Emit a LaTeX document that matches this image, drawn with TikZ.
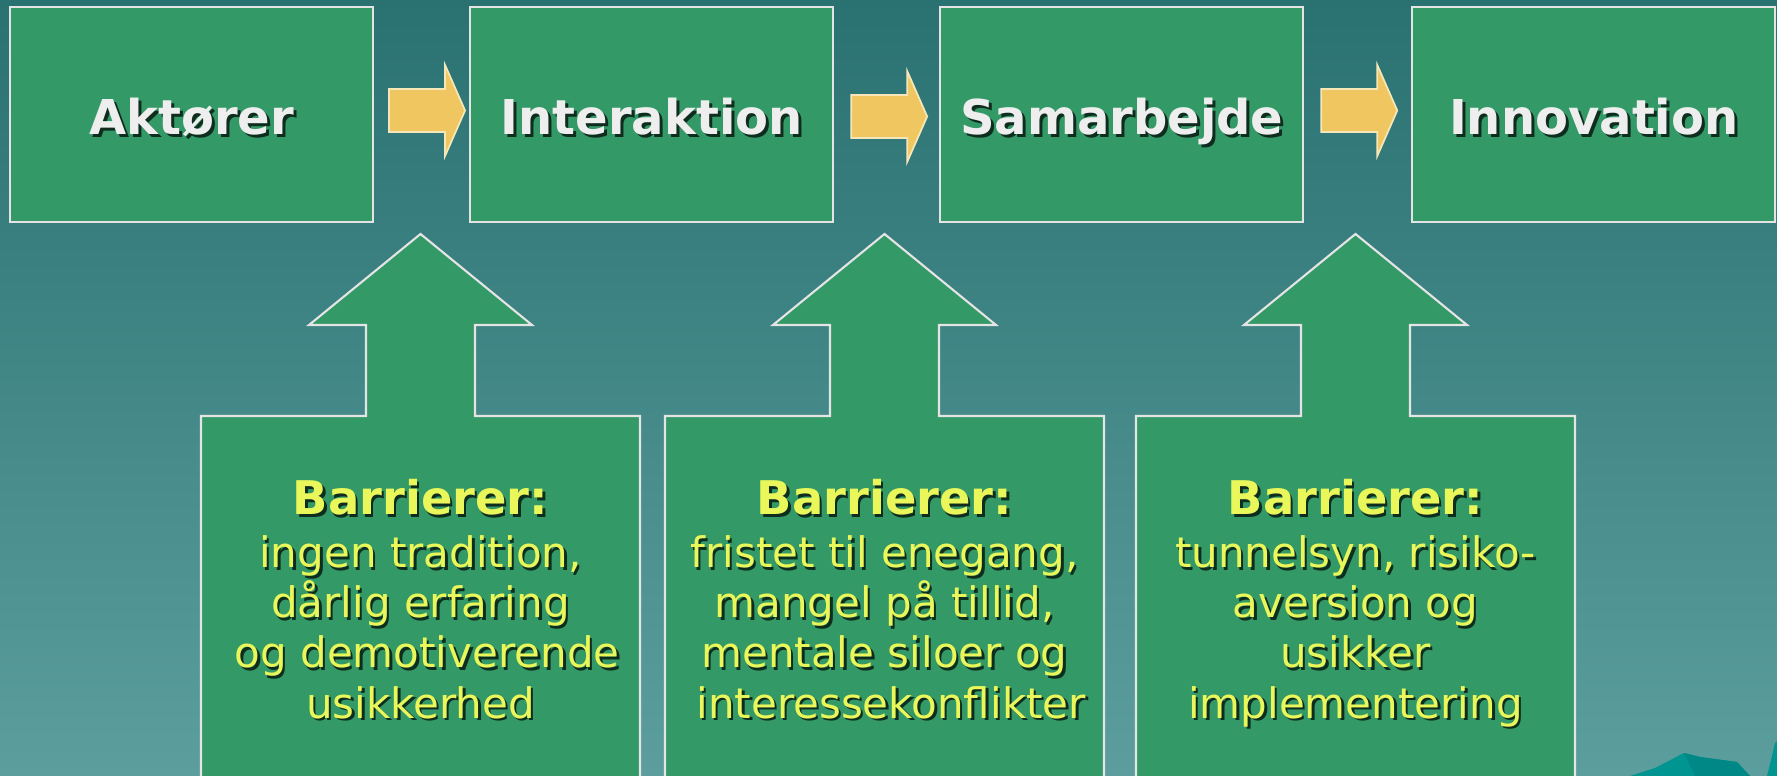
\documentclass[tikz,border=0pt]{standalone}
\usepackage{fontspec}
\setmainfont{DejaVu Sans}
\usetikzlibrary{positioning}

\definecolor{boxgreen}{HTML}{339966}
\definecolor{boxline}{HTML}{E4E4E4}
\definecolor{arrowyellow}{HTML}{EFC65F}
\definecolor{arrowline}{HTML}{F6E7B8}
\definecolor{titlegray}{HTML}{EEEEEE}
\definecolor{baryellow}{HTML}{EAF75A}
\definecolor{bgtop}{HTML}{2A7171}
\definecolor{bgbottom}{HTML}{5C9E9E}
\definecolor{hillteal}{HTML}{009590}
\definecolor{hilldark}{HTML}{008886}

\tikzset{
  stagebox/.style={draw=boxline, line width=0.6pt, fill=boxgreen, rectangle,
    minimum width=3.63cm, minimum height=2.15cm, inner sep=0pt},
  stagetxt/.style={font=\fontsize{13.66pt}{16pt}\selectfont\bfseries, text=titlegray,
    anchor=base, inner sep=0pt},
  flowarrowstyle/.style={fill=arrowyellow, draw=arrowline, line width=0.5pt},
  barrierarrow/.style={fill=boxgreen, draw=boxline, line width=0.6pt},
  barriertxt/.style={font=\fontsize{11.95pt}{14.23pt}\selectfont, text=baryellow,
    align=center, anchor=north, inner sep=0pt},
  txtshadow/.style={text=black, text opacity=0.7}
}

\newcommand\barhead{{\fontsize{13.2pt}{14.23pt}\selectfont\bfseries Barrierer:}}
\newcommand\flowarrow[1]{%
  \draw[flowarrowstyle] #1 -- ++(0.56,0) -- ++(0,0.24) -- ++(0.20,-0.455)
    -- ++(-0.20,-0.455) -- ++(0,0.24) -- ++(-0.56,0) -- cycle;}

\begin{document}
\begin{tikzpicture}
    \useasboundingbox (0,0) rectangle (17.77,7.76);
    \clip (0,0) rectangle (17.77,7.76);
    \shade[top color=bgtop, bottom color=bgbottom] (0,0) rectangle (17.77,7.76);

    % hills in the corner
    \fill[hillteal] (16.30,0) -- (16.55,0.08) -- (16.84,0.23) -- (17.00,0.19) -- (17.37,0.14) -- (17.50,0) -- cycle;
    \fill[hilldark] (16.84,0.23) -- (17.00,0.19) -- (17.37,0.14) -- (17.50,0) -- (16.95,0) -- cycle;
    \fill[hillteal] (17.67,0) -- (17.72,0.20) -- (17.75,0.33) -- (17.77,0.35) -- (17.77,0) -- cycle;

    % stages
    \node (aktor) [stagebox] at (1.915,6.615) {};
    \node (interaktion) [stagebox, right=0.95cm of aktor] {};
    \node (samarbejde) [stagebox, right=1.05cm of interaktion] {};
    \node (innovation) [stagebox, right=1.07cm of samarbejde] {};

    \foreach \n/\t in {aktor/Aktører, interaktion/Interaktion, samarbejde/Samarbejde, innovation/Innovation} {
        \node (\n-sh) [stagetxt, txtshadow] at ([shift={(0.03,-0.235)}]\n.center) {\t};
        \node (\n-txt) [stagetxt] at ([yshift=-0.205cm]\n.center) {\t};
    }

    \flowarrow{([shift={(0.15,0.255)}]aktor.east)}
    \flowarrow{([shift={(0.17,0.195)}]interaktion.east)}
    \flowarrow{([shift={(0.17,0.255)}]samarbejde.east)}

    % barriers
    \foreach \cx/\lines [count=\i] in {
        4.205/{ingen tradition,\\dårlig erfaring\\~og demotiverende\\usikkerhed},
        8.845/{fristet til enegang,\\mangel på tillid,\\mentale siloer og\\~interessekonflikter},
        13.555/{tunnelsyn, risiko-\\aversion og\\usikker\\implementering}} {
        \draw[barrierarrow] (\cx-2.195,-0.2) -- (\cx-2.195,3.60) -- (\cx-0.545,3.60) -- (\cx-0.545,4.51)
            -- (\cx-1.115,4.51) -- (\cx,5.42) -- (\cx+1.115,4.51) -- (\cx+0.545,4.51)
            -- (\cx+0.545,3.60) -- (\cx+2.195,3.60) -- (\cx+2.195,-0.2) -- cycle;
        \node (bar\i-sh) [barriertxt, txtshadow] at (\cx+0.025,2.945) {\barhead\\[0.03cm]\lines};
        \node (bar\i) [barriertxt] at (\cx,2.97) {\barhead\\[0.03cm]\lines};
    }
\end{tikzpicture}
\end{document}
